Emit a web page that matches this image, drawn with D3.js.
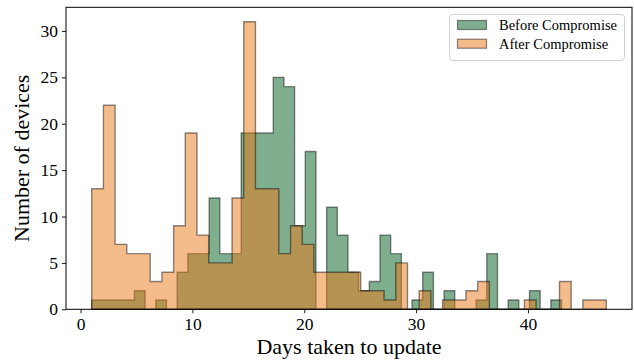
<!DOCTYPE html>
<html>
<head>
<meta charset="utf-8">
<script src="https://cdn.jsdelivr.net/npm/d3@7"></script>
<style>
  body { margin: 0; background: #fff; }
  svg { display: block; font-family: "Liberation Serif", "DejaVu Serif", serif; }
</style>
</head>
<body>
<div id="chart"></div>
<script>
// histogram counts, 44 equal bins each
var beforeRange = [1, 43];
var beforeCounts = [1, 1, 1, 1, 2, 0, 1, 0, 4, 6, 6, 12, 6, 6, 19, 19, 19, 25, 24, 9, 17, 0,
                    11, 8, 4, 2, 3, 8, 6, 0, 1, 4, 0, 2, 0, 0, 1, 6, 0, 1, 0, 2, 0, 1];
var afterRange = [1, 47];
var afterCounts = [13, 22, 7, 6, 6, 3, 4, 9, 19, 8, 5, 5, 12, 31, 13, 13, 6, 9, 7, 4, 4, 4,
                   4, 2, 2, 1, 5, 0, 2, 0, 1, 1, 2, 3, 0, 0, 0, 1, 0, 0, 3, 0, 1, 1];
var seriesNames = ["Before Compromise", "After Compromise"];
var xTicks = [0, 10, 20, 30, 40];
var yTicks = [0, 5, 10, 15, 20, 25, 30];

var W = 634, H = 362;
var margin = {top: 7.3, right: 2, bottom: 52.7, left: 66};
var width = W - margin.left - margin.right,
    height = H - margin.top - margin.bottom;

var colors = ["#005e20", "#e97717"];

var svg = d3.select("#chart").append("svg")
    .attr("width", W).attr("height", H);
var g = svg.append("g")
    .attr("transform", "translate(" + margin.left + "," + margin.top + ")");

// matplotlib style 5% padding around data
var lo = 1, hi = 47, pad = (hi - lo) * 0.05;
var x = d3.scaleLinear().domain([lo - pad, hi + pad]).range([0, width]);
var yMax = d3.max(afterCounts.concat(beforeCounts));
var y = d3.scaleLinear().domain([0, yMax * 1.05]).range([height, 0]);

// step outline for a stepfilled histogram
function stepPoints(range, counts) {
  var n = counts.length, w = (range[1] - range[0]) / n;
  var pts = [[range[0], 0]];
  counts.forEach(function(c, i) {
    pts.push([range[0] + i * w, c]);
    pts.push([range[0] + (i + 1) * w, c]);
  });
  pts.push([range[1], 0]);
  return pts;
}
var line = d3.line().x(function(d) { return x(d[0]); }).y(function(d) { return y(d[1]); });

[[beforeRange, beforeCounts], [afterRange, afterCounts]].forEach(function(s, i) {
  g.append("path")
      .attr("d", line(stepPoints(s[0], s[1])) + "Z")
      .attr("fill", colors[i])
      .attr("fill-opacity", 0.5)
      .attr("stroke", "#000")
      .attr("stroke-opacity", 0.45)
      .attr("stroke-width", 1.4)
      .attr("stroke-linejoin", "miter");
});

// axes
var xAxis = g.append("g")
    .attr("transform", "translate(0," + height + ")")
    .call(d3.axisBottom(x).tickValues(xTicks).tickSize(4).tickPadding(4));
var yAxis = g.append("g")
    .call(d3.axisLeft(y).tickValues(yTicks).tickSize(4).tickPadding(4));
[xAxis, yAxis].forEach(function(a) {
  a.select(".domain").remove();
  a.selectAll(".tick line").attr("stroke", "#000").attr("stroke-width", 0.9);
  a.selectAll(".tick text").attr("font-size", 17.5).attr("fill", "#000")
      .attr("font-family", "Liberation Serif, serif");
});

// frame
g.append("rect")
    .attr("width", width).attr("height", height)
    .attr("fill", "none").attr("stroke", "#000").attr("stroke-width", 1);

// axis labels
svg.append("text")
    .attr("x", margin.left + width / 2).attr("y", 354)
    .attr("text-anchor", "middle").attr("font-size", 22)
    .text("Days taken to update");
svg.append("text")
    .attr("transform", "translate(29," + (margin.top + height / 2) + ") rotate(-90)")
    .attr("text-anchor", "middle").attr("font-size", 22)
    .text("Number of devices");

// legend
var lg = svg.append("g");
lg.append("rect")
    .attr("x", 449.5).attr("y", 14.5).attr("width", 175).attr("height", 46).attr("rx", 3)
    .attr("fill", "#fff").attr("fill-opacity", 0.8)
    .attr("stroke", "#d0d0d0").attr("stroke-width", 1);
seriesNames.forEach(function(name, i) {
  var cy = 25 + i * 18.7;
  lg.append("rect")
      .attr("x", 457.5).attr("y", cy - 4.5).attr("width", 29).attr("height", 9)
      .attr("fill", colors[i]).attr("fill-opacity", 0.5)
      .attr("stroke", "#000").attr("stroke-opacity", 0.45).attr("stroke-width", 1.2);
  lg.append("text")
      .attr("x", 499).attr("y", cy + 5)
      .attr("font-size", 14.5)
      .text(name);
});
</script>
</body>
</html>
